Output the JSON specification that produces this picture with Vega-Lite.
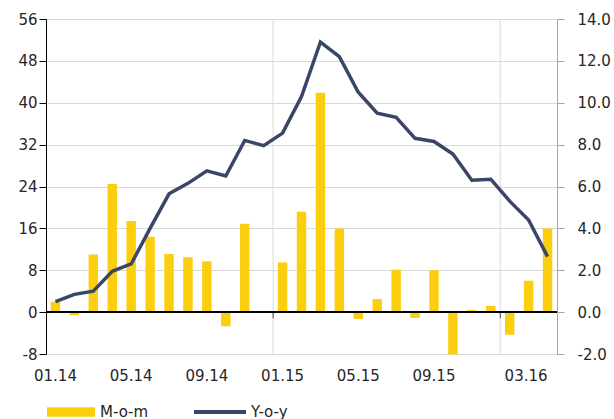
{
  "$schema": "https://vega.github.io/schema/vega-lite/v6.json",
  "width": 511,
  "height": 335,
  "autosize": {"type": "none"},
  "padding": {"left": 46, "top": 19, "right": 57, "bottom": 65},
  "config": {
    "view": {"stroke": null},
    "font": "DejaVu Sans",
    "axis": {"labelFont": "DejaVu Sans", "labelFontSize": 15, "labelColor": "#262626", "title": null},
    "legend": {"labelFont": "DejaVu Sans", "labelFontSize": 15, "labelColor": "#262626"}
  },
  "data": {
    "values": [
      {"m": "01.14", "mom": 2.0, "yoy": 0.5},
      {"m": "02.14", "mom": -0.6, "yoy": 0.85},
      {"m": "03.14", "mom": 11.0, "yoy": 1.0},
      {"m": "04.14", "mom": 24.5, "yoy": 1.95},
      {"m": "05.14", "mom": 17.4, "yoy": 2.3},
      {"m": "06.14", "mom": 14.4, "yoy": 4.0},
      {"m": "07.14", "mom": 11.1, "yoy": 5.65},
      {"m": "08.14", "mom": 10.5, "yoy": 6.15},
      {"m": "09.14", "mom": 9.7, "yoy": 6.75},
      {"m": "10.14", "mom": -2.7, "yoy": 6.5},
      {"m": "11.14", "mom": 16.9, "yoy": 8.2},
      {"m": "12.14", "mom": 0, "yoy": 7.95},
      {"m": "01.15", "mom": 9.5, "yoy": 8.55},
      {"m": "02.15", "mom": 19.2, "yoy": 10.3},
      {"m": "03.15", "mom": 41.9, "yoy": 12.9},
      {"m": "04.15", "mom": 16.0, "yoy": 12.2},
      {"m": "05.15", "mom": -1.3, "yoy": 10.5},
      {"m": "06.15", "mom": 2.5, "yoy": 9.5},
      {"m": "07.15", "mom": 8.1, "yoy": 9.3},
      {"m": "08.15", "mom": -1.1, "yoy": 8.3},
      {"m": "09.15", "mom": 8.0, "yoy": 8.15},
      {"m": "10.15", "mom": -8.1, "yoy": 7.55},
      {"m": "11.15", "mom": 0.4, "yoy": 6.3},
      {"m": "12.15", "mom": 1.2, "yoy": 6.35},
      {"m": "01.16", "mom": -4.3, "yoy": 5.3},
      {"m": "02.16", "mom": 6.0, "yoy": 4.4},
      {"m": "03.16", "mom": 16.0, "yoy": 2.65}
    ]
  },
  "layer": [
    {
      "layer": [
        {
          "transform": [{"filter": {"field": "m", "oneOf": ["01.15", "01.16"]}}],
          "mark": {"type": "rule", "color": "#d9d9d9", "strokeWidth": 1, "xOffset": -9.463},
          "encoding": {
            "x": {"field": "m", "type": "ordinal", "sort": null}
          }
        },
        {
          "mark": {"type": "bar", "width": {"band": 0.5}},
          "encoding": {
            "x": {
              "field": "m", "type": "ordinal", "sort": null,
              "scale": {
                "domain": ["01.14","02.14","03.14","04.14","05.14","06.14","07.14","08.14","09.14","10.14","11.14","12.14","01.15","02.15","03.15","04.15","05.15","06.15","07.15","08.15","09.15","10.15","11.15","12.15","01.16","02.16","03.16"],
                "paddingInner": 0, "paddingOuter": 0
              },
              "axis": {
                "orient": "bottom", "domain": false, "ticks": false, "grid": false,
                "labelAngle": 0, "labelPadding": 12, "offset": 9,
                "labelOverlap": false, "labelBound": false, "labelFlush": false,
                "labelExpr": "indexof(['01.14','05.14','09.14','01.15','05.15','09.15','03.16'], datum.value) >= 0 ? datum.label : ''",
                "labelAlign": {"condition": {"test": "datum.value === '03.16'", "value": "right"}, "value": "center"}
              }
            },
            "y": {
              "field": "mom", "type": "quantitative",
              "scale": {"domain": [-8, 56], "nice": false, "zero": false},
              "axis": {
                "orient": "left", "values": [-8, 0, 8, 16, 24, 32, 40, 48, 56],
                "labelExpr": "replace(datum.label, '\u2212', '-')",
                "domainColor": "#000000", "tickColor": "#000000", "tickSize": 7,
                "labelPadding": 2, "grid": true, "gridColor": "#d9d9d9"
              }
            },
            "fill": {
              "datum": "M-o-m", "type": "nominal",
              "scale": {"range": ["#FBCF10"]},
              "legend": {
                "title": null, "orient": "none", "legendX": 1, "legendY": 369,
                "symbolType": "M-1,-0.2H1V0.2H-1Z", "symbolSize": 2304,
                "symbolStrokeWidth": 0, "labelOffset": 5
              }
            }
          }
        },
        {
          "mark": {"type": "rule", "color": "#000000", "strokeWidth": 1},
          "encoding": {"y": {"datum": 0, "type": "quantitative"}}
        },
        {
          "transform": [{"filter": {"field": "m", "oneOf": ["01.15", "01.16"]}}],
          "mark": {"type": "tick", "orient": "vertical", "size": 6, "thickness": 1, "xOffset": -9.463, "yOffset": 3, "color": "#000000"},
          "encoding": {
            "x": {"field": "m", "type": "ordinal", "sort": null},
            "y": {"datum": 0, "type": "quantitative"}
          }
        }
      ]
    },
    {
      "mark": {"type": "line", "strokeWidth": 3.5},
      "encoding": {
        "x": {"field": "m", "type": "ordinal", "sort": null},
        "y": {
          "field": "yoy", "type": "quantitative",
          "scale": {"domain": [-2, 14], "nice": false, "zero": false},
          "axis": {
            "orient": "right", "values": [-2, 0, 2, 4, 6, 8, 10, 12, 14], "format": ".1f",
            "labelExpr": "replace(datum.label, '\u2212', '-')",
            "domainColor": "#a6a6a6", "tickColor": "#a6a6a6", "tickSize": 7,
            "labelPadding": 13, "grid": false
          }
        },
        "stroke": {
          "datum": "Y-o-y", "type": "nominal",
          "scale": {"range": ["#3A4668"]},
          "legend": {
            "title": null, "orient": "none", "legendX": 146, "legendY": 365,
            "symbolType": "stroke", "symbolSize": 2704, "symbolStrokeWidth": 4, "labelOffset": 3
          }
        }
      }
    }
  ],
  "resolve": {"scale": {"y": "independent"}}
}
